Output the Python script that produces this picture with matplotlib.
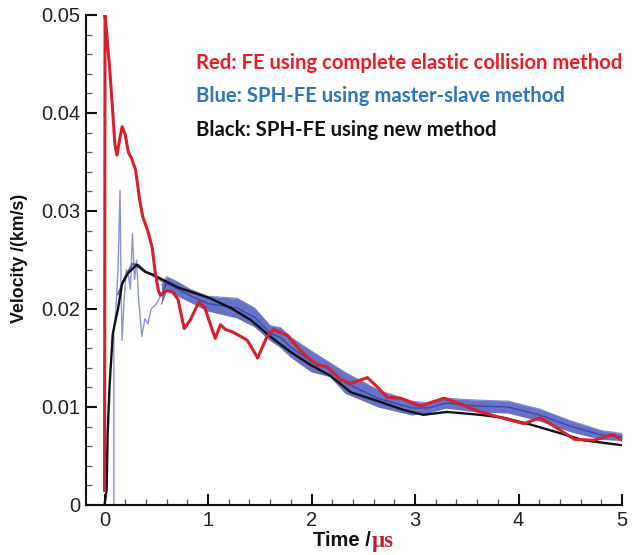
import matplotlib
matplotlib.use("Agg")
import matplotlib.pyplot as plt
from matplotlib.ticker import MultipleLocator

# ---------------- data ----------------
red_x = [0.0, 0.005, 0.03, 0.05, 0.08, 0.1, 0.12, 0.15, 0.17, 0.2, 0.23, 0.26, 0.3, 0.34, 0.37,
         0.42, 0.46, 0.49, 0.52, 0.54, 0.6, 0.66, 0.71, 0.77, 0.83, 0.91, 0.97, 1.04, 1.07,
         1.12, 1.17, 1.23, 1.3, 1.38, 1.48, 1.57, 1.63, 1.7, 1.77, 1.89, 1.99, 2.06, 2.15,
         2.28, 2.38, 2.54, 2.64, 2.73, 2.86, 3.05, 3.28, 3.44, 3.63, 3.8, 4.05, 4.21, 4.35,
         4.54, 4.73, 4.91, 5.0]
red_y = [0.0015, 0.050, 0.0470, 0.0445, 0.0400, 0.0368, 0.0357, 0.0375, 0.0386, 0.0378, 0.0360,
         0.0354, 0.0342, 0.0311, 0.0294, 0.0279, 0.0263, 0.0237, 0.0219, 0.0214, 0.0219, 0.0217,
         0.0210, 0.0180, 0.0189, 0.0207, 0.0201, 0.0179, 0.0170, 0.0184, 0.0179, 0.0177, 0.0173,
         0.0168, 0.0150, 0.0172, 0.0179, 0.0176, 0.0173, 0.0158, 0.0148, 0.0143, 0.0141, 0.0128,
         0.0124, 0.0130, 0.0120, 0.0110, 0.0109, 0.0101, 0.0109, 0.0103, 0.0095, 0.0090, 0.0083,
         0.0089, 0.0080, 0.0067, 0.0066, 0.0072, 0.0066]

black_x = [0.0, 0.02, 0.03, 0.05, 0.08, 0.13, 0.17, 0.23, 0.31, 0.39, 0.47, 0.56, 0.71, 0.88,
           1.02, 1.22, 1.41, 1.6, 1.8, 1.99, 2.18, 2.38, 2.67, 2.89, 3.08, 3.31, 3.63, 3.86,
           4.12, 4.41, 4.63, 5.0]
black_y = [0.0, 0.0015, 0.0073, 0.0124, 0.0175, 0.0200, 0.0226, 0.0237, 0.0245, 0.0238, 0.0235,
           0.0230, 0.0222, 0.0216, 0.0211, 0.0201, 0.0189, 0.0172, 0.0156, 0.0143, 0.0132, 0.0115,
           0.0105, 0.0097, 0.0092, 0.0095, 0.0092, 0.0089, 0.0082, 0.0073, 0.0066, 0.0061]

# early, thin blue trace (master-slave) with its spikes
blue_early_x = [0.09, 0.09, 0.11, 0.13, 0.15, 0.16, 0.17, 0.19, 0.21, 0.23, 0.25, 0.27, 0.29,
                0.31, 0.33, 0.36, 0.39, 0.42, 0.45, 0.5, 0.55, 0.6]
blue_early_y = [0.0, 0.018, 0.020, 0.024, 0.0321, 0.022, 0.0168, 0.021, 0.024, 0.0235, 0.022,
                0.0277, 0.023, 0.025, 0.021, 0.0172, 0.019, 0.0185, 0.020, 0.0205, 0.0215, 0.0222]
# blue trace following the black near its peak
blue_track_x = [0.13, 0.2, 0.27, 0.33, 0.4, 0.5, 0.6]
blue_track_y = [0.0215, 0.0233, 0.0246, 0.0245, 0.0238, 0.0232, 0.0226]
# noisy band of the blue curve (upper / lower envelope)
blue_band_x = [0.55, 0.6, 0.7, 0.83, 1.0, 1.28, 1.45, 1.6, 1.7, 1.8, 2.0, 2.18, 2.33, 2.65,
               2.97, 3.13, 3.3, 3.6, 3.9, 4.2, 4.5, 4.8, 5.0]
blue_upper = [0.0225, 0.0233, 0.0228, 0.0220, 0.0213, 0.0211, 0.0201, 0.0183, 0.0181, 0.0171,
              0.0157, 0.0145, 0.0135, 0.0117, 0.0106, 0.0104, 0.0109, 0.0107, 0.0106, 0.0098,
              0.0086, 0.0076, 0.0073]
blue_lower = [0.0205, 0.0219, 0.0214, 0.0207, 0.0198, 0.0191, 0.0182, 0.0168, 0.0161, 0.0151,
              0.0136, 0.0131, 0.0114, 0.0100, 0.0092, 0.0094, 0.0099, 0.0095, 0.0094, 0.0086,
              0.0075, 0.0067, 0.0066]

x_ticks = [0, 1, 2, 3, 4, 5]
y_ticks = [0, 0.01, 0.02, 0.03, 0.04, 0.05]
y_tick_labels = ["0", "0.01", "0.02", "0.03", "0.04", "0.05"]

legend_lines = ["Red: FE using complete elastic collision method",
                "Blue: SPH-FE using master-slave method",
                "Black: SPH-FE using new method"]
legend_colors = ["#ec1c24", "#2f74c0", "#111111"]

# ---------------- figure ----------------
W, H = 633, 555
fig = plt.figure(figsize=(W / 100, H / 100), dpi=100)
ax = fig.add_axes([86 / W, 1 - 505 / H, (622 - 86) / W, (505 - 15) / H])

ax.fill_between(blue_band_x, blue_lower, blue_upper, color="#4050b8", alpha=0.8, lw=0, zorder=2)
ax.plot(blue_band_x, blue_upper, color="#6670c8", lw=0.8, alpha=0.8, zorder=2)
ax.plot(blue_band_x, blue_lower, color="#6670c8", lw=0.8, alpha=0.8, zorder=2)
ax.plot(blue_band_x, [(a + b) / 2 for a, b in zip(blue_upper, blue_lower)],
        color="#3a48b0", lw=1.0, zorder=2)
ax.plot(blue_early_x, blue_early_y, color="#7f86d6", lw=1.0, alpha=0.9, zorder=2)
ax.plot(blue_track_x, blue_track_y, color="#3a48b0", lw=1.5, alpha=0.8, zorder=2)
ax.plot(black_x, black_y, color="#111111", lw=1.7, zorder=3)
ax.plot(red_x, red_y, color="#d8202a", lw=2.2, zorder=4, solid_joinstyle="round")

ax.set_xlim(-0.179, 5.0)
ax.set_ylim(0, 0.05)
for s in ["top", "right"]:
    ax.spines[s].set_visible(False)
for s in ["left", "bottom"]:
    ax.spines[s].set_linewidth(1.5)
    ax.spines[s].set_color("#111111")

ax.set_xticks(x_ticks)
ax.set_yticks(y_ticks)
ax.set_yticklabels(y_tick_labels)
ax.xaxis.set_minor_locator(MultipleLocator(0.2))
ax.yaxis.set_minor_locator(MultipleLocator(0.002))
ax.tick_params(which="major", direction="in", length=8, width=1.5, color="#111111",
               labelsize=14.5, labelcolor="#222222", pad=4)
ax.tick_params(which="minor", direction="in", length=4, width=0.9, color="#555555")
for lab in ax.get_xticklabels() + ax.get_yticklabels():
    lab.set_family(["Liberation Sans", "DejaVu Sans"])

fig.text(20 / W, 1 - 258 / H, "Velocity /(km/s)", rotation=90, ha="center", va="center",
         fontsize=12.8, fontweight="bold", family=["Liberation Sans", "DejaVu Sans"],
         color="#111111")
fig.text(371 / W, 1 - 540 / H, "Time /", ha="right", va="center", fontsize=14.5,
         fontweight="bold", family=["Liberation Sans", "DejaVu Sans"], color="#111111")
fig.text(372 / W, 1 - 541 / H, "μs", ha="left", va="center", fontsize=16.5,
         fontweight="bold", family=["Liberation Serif", "DejaVu Serif"], color="#c0202a")

for i, (txt, col) in enumerate(zip(legend_lines, legend_colors)):
    fig.text(196 / W, 1 - (63 + 33.5 * i) / H, txt, ha="left", va="center", fontsize=14.6,
             fontweight="bold", family=["Lato", "DejaVu Sans"], color=col)

fig.savefig("out.png", dpi=100)
